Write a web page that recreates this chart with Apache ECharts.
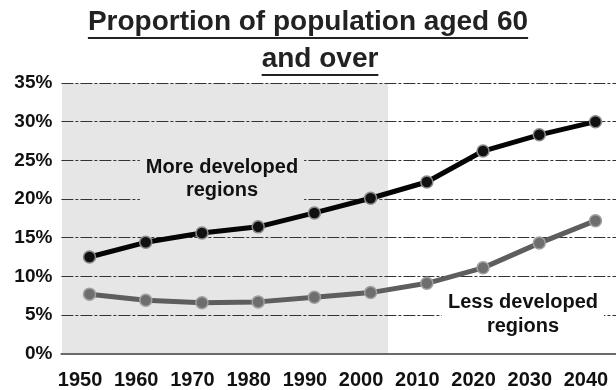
<!DOCTYPE html>
<html>
<head>
<meta charset="utf-8">
<script src="https://cdn.jsdelivr.net/npm/echarts@6/dist/echarts.min.js"></script>
<style>
html,body{margin:0;padding:0;background:#fff;}
#chart{width:616px;height:390px;}
</style>
</head>
<body>
<div id="chart"></div>
<script>
// ---- data ----
const years = [1950, 1960, 1970, 1980, 1990, 2000, 2010, 2020, 2030, 2040];
const moreDeveloped = [12.5, 14.4, 15.6, 16.4, 18.2, 20.1, 22.2, 26.2, 28.3, 30.0];
const lessDeveloped = [7.7, 6.9, 6.6, 6.7, 7.3, 7.9, 9.1, 11.1, 14.3, 17.2];
const yTicks = [0, 5, 10, 15, 20, 25, 30, 35];
const shadeSpan = [1945.1, 2003.1]; // shaded (historical) period
const titleLines = ['Proportion of population aged 60', 'and over'];
const moreLabel = 'More developed\nregions';
const lessLabel = 'Less developed\nregions';

const FONT = '"Liberation Sans", Arial, sans-serif';

function textWidth(txt, font) {
  const c = document.createElement('canvas').getContext('2d');
  c.font = font;
  return c.measureText(txt).width;
}

const chart = echarts.init(document.getElementById('chart'), null, {renderer: 'canvas'});

const titleFont = 'bold 28px ' + FONT;
const t1w = textWidth(titleLines[0], titleFont);
const t2w = textWidth(titleLines[1], titleFont);
const t1c = 308, t2c = 320;

chart.setOption({
  animation: false,
  backgroundColor: '#fff',
  grid: {left: 61.4, right: -7.6, top: 83, bottom: 36.3, containLabel: false, outerBoundsMode: 'none'},
  xAxis: {
    type: 'value',
    min: 1945,
    max: 2045,
    z: 1,
    axisLine: {show: true, onZero: false, lineStyle: {color: '#6a6a6a', width: 2}},
    axisTick: {show: false},
    splitLine: {show: false},
    axisLabel: {
      customValues: years,
      fontFamily: FONT, fontWeight: 'bold', fontSize: 20, color: '#111',
      margin: 17,
      padding: [0, 19, 0, 0],
      formatter: v => String(v)
    }
  },
  yAxis: {
    type: 'value',
    min: yTicks[0],
    max: yTicks[yTicks.length - 1],
    interval: 5,
    z: 1,
    axisLine: {show: false},
    axisTick: {show: false},
    splitLine: {show: true, lineStyle: {color: '#333', width: 1, type: [12, 2, 3, 2]}},
    axisLabel: {
      fontFamily: FONT, fontWeight: 'bold', fontSize: 19, color: '#111',
      margin: 9,
      formatter: '{value}%'
    }
  },
  series: [
    {
      type: 'custom',
      z: 0,
      silent: true,
      data: [[shadeSpan[0], shadeSpan[1]]],
      encode: {x: [0, 1]},
      renderItem: (params, api) => {
        const a = api.coord([api.value(0), yTicks[yTicks.length - 1]]);
        const b = api.coord([api.value(1), yTicks[0]]);
        return {
          type: 'rect',
          shape: {x: a[0], y: a[1], width: b[0] - a[0], height: b[1] - a[1]},
          style: {fill: '#e6e6e6'}
        };
      }
    },
    {
      name: 'Less developed regions',
      type: 'line',
      z: 3,
      data: years.map((y, i) => [y, lessDeveloped[i]]),
      symbol: 'circle',
      symbolSize: 12,
      lineStyle: {color: '#5e5e5e', width: 5},
      itemStyle: {color: '#6e6e6e', borderColor: '#a0a0a0', borderWidth: 1.5}
    },
    {
      name: 'More developed regions',
      type: 'line',
      z: 4,
      data: years.map((y, i) => [y, moreDeveloped[i]]),
      symbol: 'circle',
      symbolSize: 12,
      lineStyle: {color: '#050505', width: 5},
      itemStyle: {color: '#111', borderColor: '#8a8a8a', borderWidth: 1.5}
    }
  ],
  graphic: [
    {type: 'text', z: 100, x: t1c, y: 22,
      style: {text: titleLines[0], font: titleFont, fill: '#222', align: 'center', verticalAlign: 'middle'}},
    {type: 'line', z: 100, shape: {x1: t1c - t1w / 2, y1: 38, x2: t1c + t1w / 2, y2: 38},
      style: {stroke: '#222', lineWidth: 2}},
    {type: 'text', z: 100, x: t2c, y: 59,
      style: {text: titleLines[1], font: titleFont, fill: '#222', align: 'center', verticalAlign: 'middle'}},
    {type: 'line', z: 100, shape: {x1: t2c - t2w / 2, y1: 75, x2: t2c + t2w / 2, y2: 75},
      style: {stroke: '#222', lineWidth: 2}},
    {type: 'text', z: 100, x: 222, y: 179,
      style: {text: moreLabel, font: 'bold 20px ' + FONT, fill: '#111', align: 'center', verticalAlign: 'middle',
        lineHeight: 23, backgroundColor: '#e6e6e6', padding: [4, 6, 4, 6]}},
    {type: 'text', z: 100, x: 523, y: 314,
      style: {text: lessLabel, font: 'bold 20px ' + FONT, fill: '#111', align: 'center', verticalAlign: 'middle',
        lineHeight: 24, backgroundColor: '#fff', padding: [4, 6, 4, 6]}}
  ]
});
</script>
</body>
</html>
